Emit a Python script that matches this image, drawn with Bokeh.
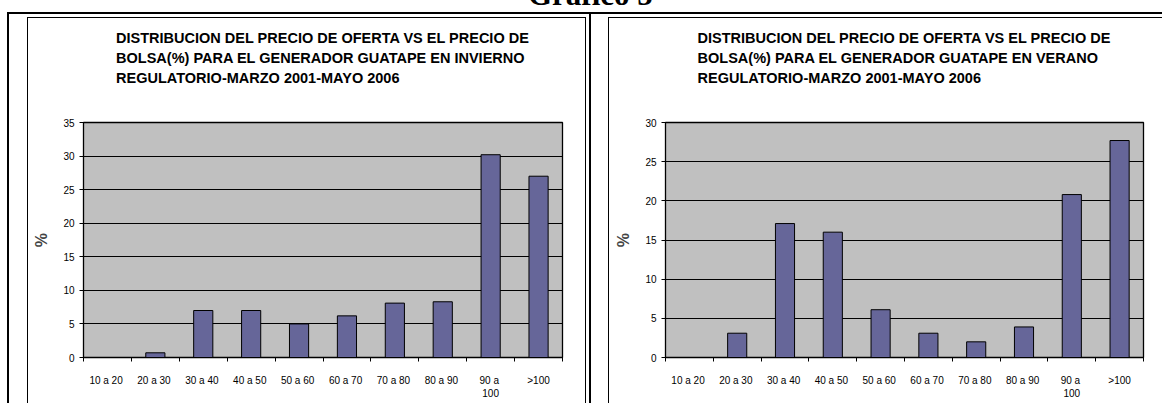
from bokeh.plotting import figure
from bokeh.layouts import row, column
from bokeh.models import Div, Spacer, FixedTicker, Range1d, Title
from bokeh.embed import file_html
from bokeh.resources import INLINE

# ---------------- data ----------------
categories = ["10  a 20", "20  a 30", "30  a 40", "40  a 50", "50  a 60",
              "60  a 70", "70  a 80", "80  a 90", "90  a\n100", ">100"]
invierno = [0.0, 0.7, 7.0, 7.0, 5.0, 6.2, 8.1, 8.3, 30.2, 27.0]
verano = [0.0, 3.1, 17.1, 16.0, 6.1, 3.1, 2.0, 3.9, 20.8, 27.7]
yticks_invierno = [0, 5, 10, 15, 20, 25, 30, 35]
yticks_verano = [0, 5, 10, 15, 20, 25, 30]
title_invierno = ("DISTRIBUCION DEL PRECIO DE OFERTA VS EL PRECIO DE\n"
                  "BOLSA(%) PARA EL GENERADOR GUATAPE EN INVIERNO\n"
                  "REGULATORIO-MARZO 2001-MAYO 2006")
title_verano = ("DISTRIBUCION DEL PRECIO DE OFERTA VS EL PRECIO DE\n"
                "BOLSA(%) PARA EL GENERADOR GUATAPE EN VERANO\n"
                "REGULATORIO-MARZO 2001-MAYO 2006")
y_label = "%"
page_title = "Grafico 5"

FONT = "Liberation Sans"
BAR = "#666699"
PLOT_BG = "#C0C0C0"


def make_chart(values, yticks, title, width, border_left, frame_width):
    n = len(categories)
    centers = [2 * i + 1 for i in range(n)]
    bounds = [2 * i for i in range(n + 1)]
    p = figure(width=width, height=385, output_backend="svg", toolbar_location=None,
               x_range=Range1d(0, 2 * n), y_range=Range1d(yticks[0], yticks[-1]),
               min_border_left=border_left,
               min_border_right=width - border_left - frame_width,
               min_border_top=104, min_border_bottom=46,
               background_fill_color=PLOT_BG, border_fill_color="white")
    p.title.text = title
    p.title.align = "center"
    p.title.vertical_align = "bottom"
    p.title.text_font = FONT
    p.title.text_font_size = "14.5px"
    p.title.text_font_style = "bold"
    p.title.text_color = "black"
    p.title.text_line_height = 1.26
    p.title.standoff = 0
    # blank band between the title and the plot area
    p.add_layout(Title(text=" ", text_font_size="1px", standoff=33), "above")

    p.vbar(x=centers, top=values, width=0.8, fill_color=BAR,
           line_color="black", line_width=1)

    p.outline_line_color = "black"
    p.outline_line_width = 1.3
    p.xgrid.grid_line_color = None
    p.ygrid.grid_line_color = "black"
    p.ygrid.grid_line_width = 1
    p.ygrid.ticker = FixedTicker(ticks=yticks)

    xa = p.xaxis[0]
    xa.ticker = FixedTicker(ticks=centers, minor_ticks=bounds)
    xa.major_label_overrides = {c: lab for c, lab in zip(centers, categories)}
    xa.major_tick_line_color = None
    xa.major_tick_out = 0
    xa.major_tick_in = 0
    xa.minor_tick_line_color = "black"
    xa.minor_tick_out = 4
    xa.minor_tick_in = 0
    xa.axis_line_color = "black"
    xa.major_label_text_font = FONT
    xa.major_label_text_font_size = "10px"
    xa.major_label_text_color = "black"
    xa.major_label_standoff = 13

    ya = p.yaxis[0]
    ya.ticker = FixedTicker(ticks=yticks)
    ya.minor_tick_line_color = None
    ya.major_tick_out = 4
    ya.major_tick_in = 0
    ya.major_tick_line_color = "black"
    ya.axis_line_color = "black"
    ya.major_label_text_font = FONT
    ya.major_label_text_font_size = "10px"
    ya.major_label_text_color = "black"
    ya.major_label_standoff = 5
    ya.axis_label = y_label
    ya.axis_label_text_font = FONT
    ya.axis_label_text_font_size = "16px"
    ya.axis_label_text_font_style = "bold"
    ya.axis_label_standoff = 10
    return p


def bar_line(w, h):
    return Div(text="", width=w, height=h, margin=0,
               styles={"background-color": "black"})


def gap(w, h):
    return Spacer(width=w, height=h, margin=0)


left = make_chart(invierno, yticks_invierno, title_invierno, 557, 55, 479)
right = make_chart(verano, yticks_verano, title_verano, 553, 56, 478)

left_obj = column(gap(559, 3), bar_line(559, 1),
                  row(bar_line(1, 385), left, bar_line(1, 385), spacing=0),
                  spacing=0)
right_obj = column(gap(554, 3), bar_line(554, 1),
                   row(bar_line(1, 385), right, spacing=0),
                   spacing=0)

head = Div(text=('<div style="position:relative; left:528px; top:-21px; '
                 'font-family:\'Liberation Serif\'; font-weight:bold; font-size:31px; '
                 'line-height:31px; white-space:nowrap; color:black;">'
                 + page_title + '</div>'),
           width=1162, height=12, margin=0, styles={"overflow": "hidden"})

hline_row = row(gap(7, 2), bar_line(1155, 2), spacing=0)
body = row(gap(7, 389), bar_line(2, 389), gap(18, 389), left_obj,
           gap(3, 389), bar_line(2, 389), gap(17, 389), right_obj, spacing=0)

page = column(head, hline_row, body, spacing=0)

open("out.html", "w").write(file_html(page, INLINE))
